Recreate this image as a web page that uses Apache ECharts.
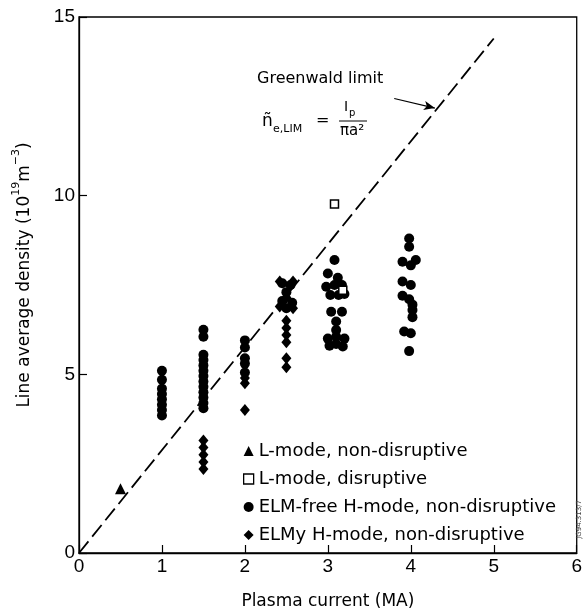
<!DOCTYPE html>
<html>
<head>
<meta charset="utf-8">
<script src="https://cdn.jsdelivr.net/npm/echarts@6/dist/echarts.min.js"></script>
<style>
  html, body { margin: 0; padding: 0; background: #fff; }
  #chart { width: 585px; height: 615px; }
</style>
</head>
<body>
<div id="chart"></div>
<script>
// plasma current (MA), line average density (1e19 m^-3)
const lModeNonDisruptive = [[0.5, 1.8]]
const lModeDisruptive = [[3.08, 9.77], [3.18, 7.35]]
const elmFree = [
  [1, 5.1], [1, 4.85], [1, 4.6], [1, 4.45], [1, 4.3], [1, 4.15], [1, 4.0], [1, 3.85],
  [1.5, 6.25], [1.5, 6.05], [1.5, 5.55], [1.5, 5.4], [1.5, 5.25], [1.5, 5.1], [1.5, 4.95],
  [1.5, 4.8], [1.5, 4.65], [1.5, 4.5], [1.5, 4.35], [1.5, 4.2], [1.5, 4.05],
  [2, 5.95], [2, 5.75], [2, 5.45], [2, 5.3], [2, 5.05],
  [2.45, 7.55], [2.55, 7.5], [2.5, 7.3], [2.45, 7.05], [2.57, 7.0], [2.5, 6.85],
  [3.08, 8.2], [3.0, 7.82], [3.12, 7.7], [3.17, 7.5], [2.98, 7.45], [3.08, 7.5],
  [3.03, 7.22], [3.13, 7.22], [3.2, 7.25], [3.04, 6.75], [3.17, 6.75], [3.1, 6.48],
  [3.1, 6.24], [3.1, 6.05], [3.0, 6.0], [3.2, 6.0], [3.1, 5.85], [3.02, 5.8], [3.18, 5.78],
  [3.98, 8.8], [3.98, 8.57], [3.9, 8.15], [4.06, 8.2], [4.0, 8.05], [3.9, 7.6], [4.0, 7.5],
  [3.9, 7.2], [3.98, 7.1], [4.02, 6.95], [4.02, 6.8], [4.02, 6.6], [3.92, 6.2], [4.0, 6.15],
  [3.98, 5.65],
]
const elmy = [
  [1.5, 3.15], [1.5, 2.95], [1.5, 2.75], [1.5, 2.55], [1.5, 2.35],
  [2, 4.9], [2, 4.75], [2, 4.0],
  [2.42, 7.6], [2.58, 7.6], [2.5, 7.15], [2.42, 6.9], [2.58, 6.85],
  [2.5, 6.5], [2.5, 6.3], [2.5, 6.1], [2.5, 5.9], [2.5, 5.45], [2.5, 5.2],
]
const greenwaldLine = [[0, 0], [5, 14.4]]
const arrowFrom = [3.8, 12.72]
const arrowTo = [4.29, 12.45]
const legendNames = ['L-mode, non-disruptive', 'L-mode, disruptive', 'ELM-free H-mode, non-disruptive', 'ELMy H-mode, non-disruptive']

const chart = echarts.init(document.getElementById('chart'))
const sans = 'DejaVu Sans'
const tickFont = 'Liberation Sans'

chart.setOption({
  animation: false,
  textStyle: { fontFamily: sans, color: '#000' },
  grid: { left: 79, right: 8, top: 17, bottom: 59, show: true, borderColor: '#000', borderWidth: 1.3, backgroundColor: 'transparent' },
  legend: {
    orient: 'vertical', left: 238, top: 437, itemGap: 10, itemWidth: 10, itemHeight: 10,
    textStyle: { fontFamily: sans, fontSize: 18, color: '#000', lineHeight: 18 },
    data: [
      { name: legendNames[0] },
      { name: legendNames[1], itemStyle: { borderWidth: 1.3 } },
      { name: legendNames[2] },
      { name: legendNames[3] },
    ],
  },
  xAxis: {
    type: 'value', min: 0, max: 6, interval: 1,
    name: 'Plasma current (MA)', nameLocation: 'middle', nameGap: 40,
    nameTextStyle: { fontFamily: sans, fontSize: 17, color: '#000' },
    axisLine: { lineStyle: { color: '#000', width: 1.3 } },
    axisTick: { inside: true, length: 8, lineStyle: { color: '#000', width: 1.2 } },
    axisLabel: { fontFamily: tickFont, fontSize: 19, color: '#000', margin: 4 },
    splitLine: { show: false },
  },
  yAxis: {
    type: 'value', min: 0, max: 15, interval: 5,
    name: '{t|Line average density (10}{s|19}{t|m}{s|−3}{t|)}', nameLocation: 'middle', nameGap: 46,
    nameTextStyle: {
      padding: [0, 0, 0, 20],
      rich: {
        t: { fontFamily: sans, fontSize: 17, color: '#000', lineHeight: 22, verticalAlign: 'bottom' },
        s: { fontFamily: sans, fontSize: 11, color: '#000', lineHeight: 22, verticalAlign: 'top' },
      },
    },
    axisLine: { lineStyle: { color: '#000', width: 1.3 } },
    axisTick: { inside: true, length: 8, lineStyle: { color: '#000', width: 1.2 } },
    axisLabel: { fontFamily: tickFont, fontSize: 19, color: '#000', margin: 4 },
    splitLine: { show: false },
  },
  series: [
    {
      name: 'Greenwald limit', type: 'line', data: greenwaldLine, symbol: 'none', z: 1,
      lineStyle: { color: '#000', width: 1.8, type: [15, 6] },
      markLine: {
        silent: true, symbol: ['none', 'arrow'], symbolSize: [7, 11],
        label: { show: false },
        lineStyle: { color: '#000', width: 1.2, type: 'solid' },
        data: [[{ coord: arrowFrom }, { coord: arrowTo }]],
      },
    },
    {
      name: legendNames[0], type: 'scatter', data: lModeNonDisruptive, symbol: 'triangle', symbolSize: 11, z: 3,
      itemStyle: { color: '#000', opacity: 1 },
    },
    {
      name: legendNames[2], type: 'scatter', data: elmFree, symbol: 'circle', symbolSize: 10, z: 2,
      itemStyle: { color: '#000', opacity: 1 },
    },
    {
      name: legendNames[3], type: 'scatter', data: elmy, symbol: 'diamond', symbolSize: [10, 12], z: 2,
      itemStyle: { color: '#000', opacity: 1 },
    },
    {
      name: legendNames[1], type: 'scatter', data: lModeDisruptive, symbol: 'rect', symbolSize: 8, z: 4,
      itemStyle: { color: '#fff', borderColor: '#000', borderWidth: 1.5, opacity: 1 },
    },
  ],
  graphic: [
    { type: 'text', left: 257, top: 71, style: { text: 'Greenwald limit', font: `16px "${sans}"`, fill: '#000' } },
    { type: 'text', left: 262, top: 113, style: { text: 'ñ', font: `17px "${sans}"`, fill: '#000' } },
    { type: 'text', left: 273, top: 124, style: { text: 'e,LIM', font: `11px "${sans}"`, fill: '#000' } },
    { type: 'text', left: 316, top: 113, style: { text: '=', font: `16px "${sans}"`, fill: '#000' } },
    { type: 'text', left: 344, top: 100, style: { text: 'I', font: `14px "${sans}"`, fill: '#000' } },
    { type: 'text', left: 349, top: 108, style: { text: 'p', font: `10px "${sans}"`, fill: '#000' } },
    { type: 'line', shape: { x1: 339, y1: 121, x2: 367, y2: 121 }, style: { stroke: '#000', lineWidth: 1 } },
    { type: 'text', left: 340, top: 124, style: { text: 'πa²', font: `15px "${sans}"`, fill: '#000' } },
    { type: 'text', left: 576, top: 500, rotation: Math.PI / 2, style: { text: 'JG94.313/7', font: `7px "${sans}"`, fill: '#444' } },
  ],
})
</script>
</body>
</html>
